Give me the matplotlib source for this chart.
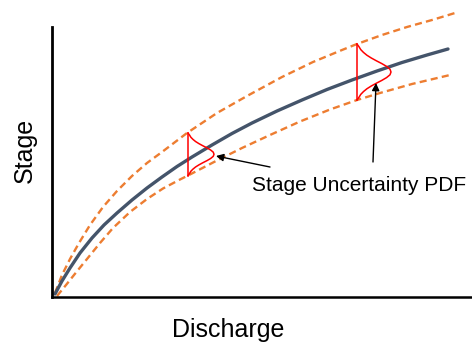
import numpy as np
import matplotlib
matplotlib.use('Agg')
import matplotlib.pyplot as plt

plt.rcParams['font.family'] = ['Liberation Sans', 'DejaVu Sans']

# rating curve (discharge vs stage), arbitrary units
q_rating = [3, 10, 18, 28, 40, 52, 65, 80, 95, 110, 125, 140, 160, 180,
            200, 225, 250, 275, 300, 325, 350, 375, 396]
h_rating = [3, 16, 29, 44, 59, 72, 84, 97, 109, 120, 130.5, 140, 152, 163.5,
            174, 186, 197, 207.5, 217, 226, 234.5, 242, 248]

# upper / lower uncertainty bounds
q_upper = [3, 10, 18, 27, 38, 51, 65, 80, 95, 110, 135, 165, 195, 230,
           261, 290, 305, 330, 355, 380, 403]
h_upper = [4, 22, 38, 54, 72, 90, 106, 121, 134, 145, 164, 184, 201, 220,
           235, 247, 253, 262, 270, 277, 284]
q_lower = [5, 14, 24, 35, 48, 61, 78, 95, 111, 128, 136, 163, 190, 218,
           248, 278, 305, 328, 360, 398]
h_lower = [1, 12, 24.5, 38, 54, 69, 85, 98, 108.5, 117.5, 121.5, 135.5, 149,
           162, 175.5, 187.5, 197, 204, 213, 222]

# stage PDFs: discharge, stage range and peak density (drawn sideways)
pdf_q = [136, 305]
pdf_lo = [121.5, 197]
pdf_hi = [164, 253]
pdf_peak = [26, 34]
# normalised PDF outline: position along stage range, relative density
pdf_t = [0, 0.05, 0.1, 0.15, 0.2, 0.25, 0.3, 0.35, 0.4, 0.45, 0.5,
         0.55, 0.6, 0.65, 0.7, 0.75, 0.8, 0.85, 0.9, 0.95, 1]
pdf_w = [0, 0.06, 0.11, 0.19, 0.29, 0.42, 0.57, 0.73, 0.87, 0.97, 1,
         0.97, 0.87, 0.73, 0.57, 0.42, 0.29, 0.19, 0.11, 0.06, 0]

label_text = 'Stage Uncertainty PDF'
text_pos = (200, 106)
arrow_tips = [(164, 141), (324, 214)]
arrow_tails = [(218, 130), (321, 135)]

fig = plt.figure(figsize=(4.72, 3.45), dpi=100)
ax = fig.add_axes([52 / 472, 48 / 345, 420 / 472, 292 / 345])
ax.set_xlim(0, 420)
ax.set_ylim(0, 292)

dark = '#44546A'
orange = '#ED7D31'

ax.plot(q_upper, h_upper, color=orange, lw=1.7, dashes=(3, 1.8),
        clip_on=False)
ax.plot(q_lower, h_lower, color=orange, lw=1.7, dashes=(3, 1.8),
        clip_on=False)
ax.plot(q_rating, h_rating, color=dark, lw=2.4, solid_capstyle='round',
        solid_joinstyle='round')

t = np.array(pdf_t)
w = np.array(pdf_w)
for q, lo, hi, pk in zip(pdf_q, pdf_lo, pdf_hi, pdf_peak):
    h = hi - t * (hi - lo)
    ax.plot(q + w * pk, h, color='red', lw=1.1)
    ax.plot([q, q], [lo, hi], color='red', lw=1.1)

arrow = dict(arrowstyle='-|>', color='black', lw=1.0, mutation_scale=11,
             shrinkA=0, shrinkB=0)
for tip, tail in zip(arrow_tips, arrow_tails):
    ax.annotate('', xy=tip, xytext=tail, arrowprops=arrow)
ax.text(*text_pos, label_text, fontsize=15, ha='left', va='baseline')

for side in ('top', 'right'):
    ax.spines[side].set_visible(False)
ax.spines['left'].set_bounds(0, 270)
ax.spines['left'].set_linewidth(2.0)
ax.spines['bottom'].set_linewidth(1.8)
ax.set_xticks([])
ax.set_yticks([])

fig.text(25 / 472, 1 - 150 / 345, 'Stage', rotation=90, fontsize=18,
         ha='center', va='center')
fig.text(228 / 472, 8 / 345, 'Discharge', fontsize=18,
         ha='center', va='baseline')

fig.savefig('out.png', dpi=100)
